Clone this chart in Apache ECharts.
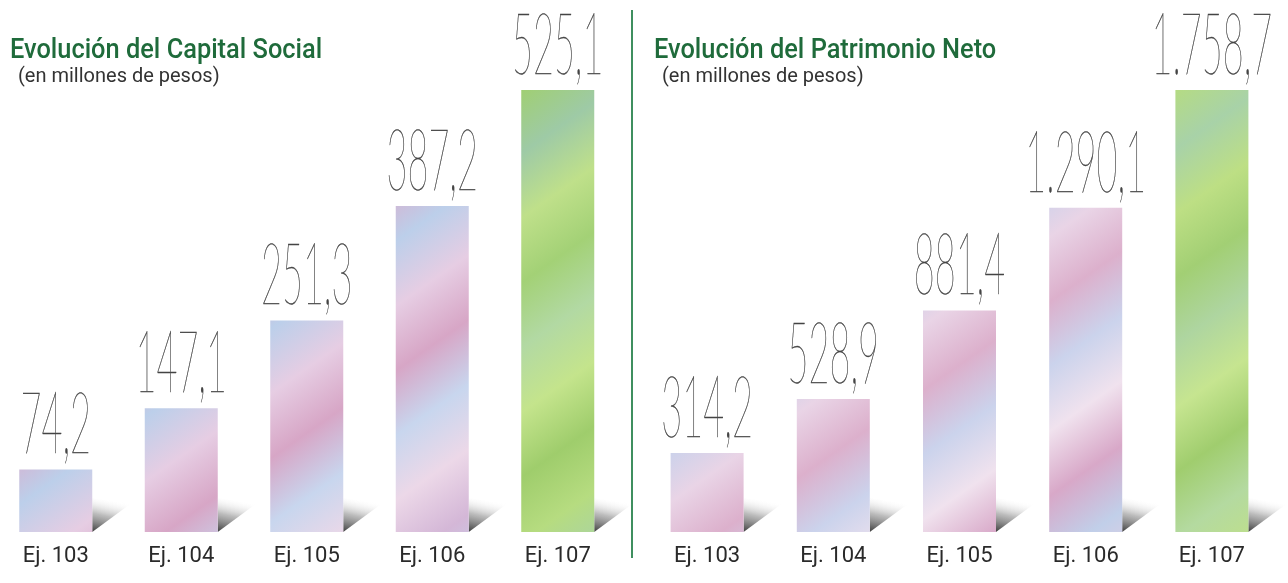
<!DOCTYPE html>
<html>
<head>
<meta charset="utf-8">
<script src="https://cdn.jsdelivr.net/npm/echarts@6/dist/echarts.min.js"></script>
<style>
html,body{margin:0;padding:0;background:#fff}
#chart{width:1288px;height:583px}
</style>
</head>
<body>
<div id="chart"></div>
<script>
const categories = ['Ej. 103', 'Ej. 104', 'Ej. 105', 'Ej. 106', 'Ej. 107']
const capitalSocial = [74.2, 147.1, 251.3, 387.2, 525.1]
const patrimonioNeto = [314.2, 528.9, 881.4, 1290.1, 1758.7]
const capitalLabels = ['74,2', '147,1', '251,3', '387,2', '525,1']
const patrimonioLabels = ['314,2', '528,9', '881,4', '1.290,1', '1.758,7']

// pastel textures, stops laid diagonally across the whole canvas
const pinkTones = ['#eed9e8', '#dfb4cf', '#cfd0ea', '#e8c3da', '#d99fc2', '#c6d2ec', '#efdfec', '#dbaccb',
  '#bccfea', '#e6cde3', '#d7a6c6', '#c8d6ee', '#ecd8e8', '#d4b7d7', '#c3d1ec', '#e9d4e6',
  '#dcb0cc', '#cbd3ec', '#f0e2ee', '#d8a8c8', '#c1cfe9', '#e7cfe2', '#d6b2d0', '#c9d5ee']
const greenTones = ['#b9de7c', '#a6d27e', '#a5cfae', '#c3e38e', '#9ccd6f', '#aad3a6', '#c8e695', '#a0cf72',
  '#9ecaa6', '#bfe08a', '#a3d176', '#b2d9a3', '#c4e48c', '#9fcd6c', '#b6dc80', '#a8d2a8',
  '#bddf84', '#a2cf74', '#aed5a0', '#c6e590', '#a0cd6e', '#b4daa0', '#c0e088', '#a4d078']

function stripes(tones) {
  return {
    type: 'linear', x: 0, y: 0, x2: 700, y2: 1000, global: true,
    colorStops: tones.map((c, i) => ({ offset: i / (tones.length - 1), color: c }))
  }
}

function barData(values) {
  return values.map((v, i) => ({
    value: v,
    itemStyle: { color: stripes(i === values.length - 1 ? greenTones : pinkTones) }
  }))
}

function labelSeries(axis, values, labels) {
  return {
    type: 'custom', xAxisIndex: axis, yAxisIndex: axis, z: 5,
    data: values.map((v, i) => [i, v]),
    renderItem: (params, api) => {
      const p = api.coord([api.value(0), api.value(1)])
      return {
        type: 'text', x: p[0], y: p[1] - 1, scaleX: 0.42,
        style: {
          text: labels[params.dataIndex], fontSize: 86, fontWeight: 100,
          fontFamily: 'Lato', fill: '#444', stroke: '#444', lineWidth: 0.45,
          align: 'center', verticalAlign: 'bottom'
        }
      }
    }
  }
}

function shadowSeries(axis, values) {
  return {
    type: 'custom', xAxisIndex: axis, yAxisIndex: axis, z: 1,
    data: values.map((v, i) => [i, v]),
    renderItem: (params, api) => {
      const p = api.coord([api.value(0), 0])
      const x = p[0] + 36.5, y = p[1]
      return {
        type: 'polygon',
        shape: { points: [[x, y], [x, y - 34], [x + 38, y - 28]] },
        style: {
          fill: {
            type: 'linear', x: 0.15, y: 1, x2: 0.35, y2: 0,
            colorStops: [
              { offset: 0, color: 'rgba(60,60,60,0.95)' },
              { offset: 0.5, color: 'rgba(160,160,160,0.7)' },
              { offset: 1, color: 'rgba(255,255,255,0)' }
            ]
          }
        }
      }
    }
  }
}

const axisLabel = { fontSize: 22, color: '#2a2a2a', fontFamily: 'Roboto', margin: 13 }

const chart = echarts.init(document.getElementById('chart'))
chart.setOption({
  animation: false,
  grid: [
    { left: -7, width: 627.5, top: 90, bottom: 51, outerBoundsMode: 'none' },
    { left: 644, width: 631, top: 90, bottom: 51, outerBoundsMode: 'none' }
  ],
  xAxis: [
    { type: 'category', gridIndex: 0, data: categories, axisLine: { show: false }, axisTick: { show: false }, axisLabel },
    { type: 'category', gridIndex: 1, data: categories, axisLine: { show: false }, axisTick: { show: false }, axisLabel }
  ],
  yAxis: [
    { type: 'value', gridIndex: 0, min: 0, max: 525.1, show: false },
    { type: 'value', gridIndex: 1, min: 0, max: 1758.7, show: false }
  ],
  graphic: [
    { type: 'text', left: 10, top: 38, scaleX: 0.94, style: { text: 'Evolución del Capital Social', fontSize: 27, fontWeight: 500, fontFamily: 'Roboto', fill: '#1f6b3b' } },
    { type: 'text', left: 18, top: 67, style: { text: '(en millones de pesos)', fontSize: 20, fontFamily: 'Roboto', fill: '#333' } },
    { type: 'text', left: 654, top: 38, scaleX: 0.94, style: { text: 'Evolución del Patrimonio Neto', fontSize: 27, fontWeight: 500, fontFamily: 'Roboto', fill: '#1f6b3b' } },
    { type: 'text', left: 662, top: 67, style: { text: '(en millones de pesos)', fontSize: 20, fontFamily: 'Roboto', fill: '#333' } },
    { type: 'line', shape: { x1: 632, y1: 10, x2: 632, y2: 558 }, style: { stroke: '#3f8f5f', lineWidth: 2 } }
  ],
  series: [
    { type: 'bar', xAxisIndex: 0, yAxisIndex: 0, barWidth: 73, data: barData(capitalSocial), z: 2 },
    { type: 'bar', xAxisIndex: 1, yAxisIndex: 1, barWidth: 73, data: barData(patrimonioNeto), z: 2 },
    shadowSeries(0, capitalSocial),
    shadowSeries(1, patrimonioNeto),
    labelSeries(0, capitalSocial, capitalLabels),
    labelSeries(1, patrimonioNeto, patrimonioLabels)
  ]
})
</script>
</body>
</html>
